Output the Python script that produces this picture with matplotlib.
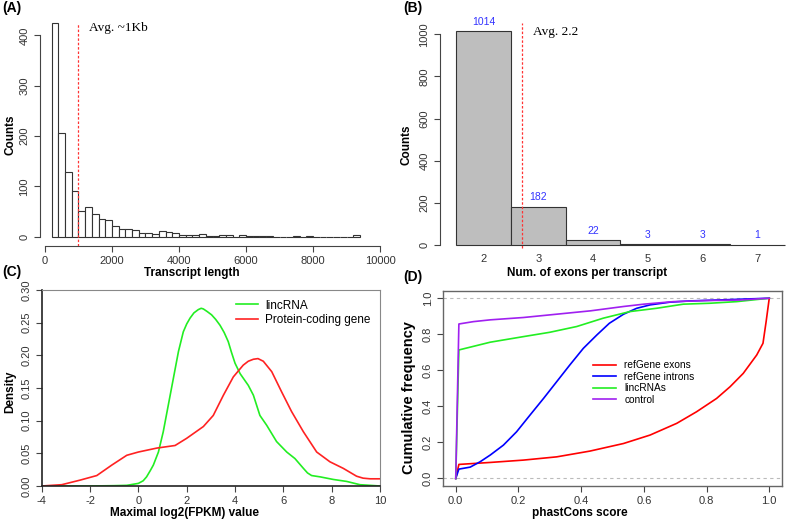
import numpy as np
import matplotlib
matplotlib.use("Agg")
import matplotlib.pyplot as plt

plt.rcParams['font.family'] = ['Liberation Sans', 'DejaVu Sans']
plt.rcParams['axes.unicode_minus'] = False

# ---------------- data ----------------
# (A) transcript length histogram, bin width 200, bins start at 200
hist_bin_starts = list(range(200, 9400, 200))
hist_counts = [425, 206, 128, 91, 52, 60, 46, 36, 34, 21, 15, 15, 14, 8, 8, 5, 11, 9, 8,
               4, 4, 4, 6, 2, 2, 4, 3, 0, 3, 1, 1, 1, 1, 0, 0, 0, 1, 0, 1, 0, 0, 0, 0,
               0, 0, 3]
avg_length = 1000

# (B) exons per transcript
exon_nums = [2, 3, 4, 5, 6, 7]
exon_counts = [1014, 182, 22, 3, 3, 1]
avg_exons_line = 2.7

# (C) density curves
linc_x = [-4, -2, -1, -0.48, 0.0, 0.2, 0.34, 0.5, 0.62, 0.83, 1.03, 1.24, 1.45, 1.66, 1.86, 2.0,
          2.14, 2.3, 2.48, 2.6, 2.69, 2.85, 3.03, 3.2, 3.38, 3.55, 3.72, 3.85, 4.0, 4.21, 4.38,
          4.55, 4.76, 5.03, 5.31, 5.72, 6.14, 6.48, 6.83, 7.0, 7.17, 7.52, 8.07, 8.62, 9.17, 10]
linc_y = [0, 0, 0.0005, 0.001, 0.004, 0.008, 0.014, 0.024, 0.032, 0.052, 0.083, 0.124, 0.165,
          0.206, 0.236, 0.248, 0.257, 0.265, 0.270, 0.272, 0.271, 0.267, 0.262, 0.255, 0.246,
          0.235, 0.221, 0.205, 0.188, 0.172, 0.163, 0.154, 0.139, 0.108, 0.093, 0.068, 0.052,
          0.042, 0.027, 0.020, 0.016, 0.014, 0.010, 0.007, 0.002, 0.0]
pc_x = [-4, -3.17, -2.41, -1.72, -1.10, -0.48, 0.0, 0.76, 1.52, 2.0, 2.69, 3.10, 3.52, 3.93,
        4.34, 4.55, 4.76, 4.95, 5.17, 5.52, 5.93, 6.34, 6.83, 7.38, 7.93, 8.48, 9.03, 9.3, 9.59, 10]
pc_y = [0, 0.002, 0.009, 0.016, 0.032, 0.047, 0.052, 0.058, 0.062, 0.073, 0.091, 0.108, 0.139,
        0.167, 0.185, 0.191, 0.194, 0.195, 0.191, 0.175, 0.144, 0.114, 0.083, 0.052, 0.037,
        0.027, 0.015, 0.012, 0.011, 0.011]

# (D) cumulative frequency curves
exon_x = [0, 0.01, 0.11, 0.216, 0.322, 0.428, 0.535, 0.62, 0.705, 0.768, 0.832, 0.875, 0.917,
          0.96, 0.98, 0.99, 1.0]
exon_y = [0, 0.078, 0.089, 0.102, 0.12, 0.152, 0.194, 0.241, 0.306, 0.37, 0.444, 0.509, 0.583,
          0.685, 0.75, 0.87, 1.0]
intron_x = [0, 0.01, 0.046, 0.078, 0.11, 0.152, 0.194, 0.237, 0.28, 0.322, 0.364, 0.407, 0.45,
            0.49, 0.535, 0.577, 0.62, 0.683, 0.747, 0.853, 1.0]
intron_y = [0, 0.052, 0.063, 0.093, 0.13, 0.185, 0.259, 0.352, 0.444, 0.537, 0.63, 0.722, 0.796,
            0.861, 0.911, 0.944, 0.963, 0.978, 0.985, 0.991, 1.0]
lincd_x = [0, 0.01, 0.11, 0.216, 0.30, 0.386, 0.47, 0.556, 0.64, 0.726, 0.81, 0.896, 1.0]
lincd_y = [0, 0.713, 0.756, 0.787, 0.811, 0.843, 0.889, 0.926, 0.944, 0.967, 0.972, 0.981, 1.0]
ctrl_x = [0, 0.01, 0.056, 0.11, 0.216, 0.32, 0.43, 0.535, 0.6, 0.694, 0.8, 0.906, 1.0]
ctrl_y = [0, 0.857, 0.87, 0.88, 0.893, 0.911, 0.93, 0.954, 0.967, 0.981, 0.987, 0.99, 1.0]

# ---------------- figure ----------------
W, H = 787, 521
fig = plt.figure(figsize=(W / 100, H / 100), dpi=100)


def add_ax(left, top, right, bottom):
    return fig.add_axes([left / W, 1 - bottom / H, (right - left) / W, (bottom - top) / H])


tick_col = '#333333'
tick_fs = 8
lab_fs = 8.5


def style_ticks(ax):
    ax.tick_params(axis='both', colors='#444444', labelcolor=tick_col, labelsize=tick_fs,
                   length=4, width=0.8, direction='out')
    for lbl in ax.get_yticklabels():
        lbl.set_rotation(90)
        lbl.set_va('center')


# ---- (A) ----
axA = add_ax(40, 20, 390, 246)
axA.bar(hist_bin_starts, hist_counts, width=200, align='edge', color='white',
        edgecolor='#333333', linewidth=0.8)
axA.set_xlim(-149, 10298)
axA.set_ylim(-18.4, 430.6)
axA.spines['top'].set_visible(False)
axA.spines['right'].set_visible(False)
axA.spines['left'].set_bounds(0, 400)
axA.spines['bottom'].set_bounds(0, 10000)
for s in ('left', 'bottom'):
    axA.spines[s].set_color('#444444')
    axA.spines[s].set_linewidth(0.8)
axA.set_xticks([0, 2000, 4000, 6000, 8000, 10000])
axA.set_yticks([0, 100, 200, 300, 400])
style_ticks(axA)
axA.axvline(avg_length, ymin=0.0, ymax=0.985, color='#ff3333', linestyle=(0, (2, 1.5)),
            linewidth=0.9, clip_on=False)
axA.text(1300, 415, 'Avg. ~1Kb', family='Liberation Serif', fontsize=9.5, va='center')
fig.text(192 / W, 1 - 273 / H, 'Transcript length', ha='center', va='center',
         fontsize=lab_fs, fontweight='bold')
fig.text(10 / W, 1 - 135 / H, 'Counts', ha='center', va='center', rotation=90,
         fontsize=lab_fs, fontweight='bold')
fig.text(2 / W, 1 - 8 / H, '(A)', ha='left', va='center', fontsize=10, fontweight='bold')

# ---- (B) ----
axB = add_ax(440, 20, 787, 248)
axB.bar(exon_nums, exon_counts, width=1.0, color='#bebebe', edgecolor='#333333', linewidth=0.8)
axB.set_xlim(1.201, 7.545)
axB.set_ylim(-14.2, 1067.8)
for s in ('top', 'right', 'bottom'):
    axB.spines[s].set_visible(False)
axB.spines['left'].set_bounds(0, 1000)
axB.spines['left'].set_color('#444444')
axB.spines['left'].set_linewidth(0.8)
axB.set_yticks([0, 200, 400, 600, 800, 1000])
axB.set_xticks(exon_nums)
style_ticks(axB)
axB.tick_params(axis='x', length=0, pad=4)
for xv, cv in zip(exon_nums, exon_counts):
    axB.text(xv, cv + 45, str(cv), color='#3333ff', ha='center', va='center', fontsize=7.5)
axB.axvline(avg_exons_line, ymin=0.0, ymax=0.985, color='#ff3333', linestyle=(0, (2, 1.5)),
            linewidth=0.9, clip_on=False)
axB.text(2.9, 1010, 'Avg. 2.2', family='Liberation Serif', fontsize=9.5, va='center')
fig.text(587 / W, 1 - 273 / H, 'Num. of exons per transcript', ha='center', va='center',
         fontsize=lab_fs, fontweight='bold')
fig.text(407 / W, 1 - 145 / H, 'Counts', ha='center', va='center', rotation=90,
         fontsize=lab_fs, fontweight='bold')
fig.text(403 / W, 1 - 8 / H, '(B)', ha='left', va='center', fontsize=10, fontweight='bold')

# ---- (C) ----
axC = add_ax(41.7, 290, 380, 486)
axC.plot(linc_x, linc_y, color='#22ee22', linewidth=1.2, label='lincRNA')
axC.plot(pc_x, pc_y, color='#ff2222', linewidth=1.2, label='Protein-coding gene')
axC.set_xlim(-4, 10)
axC.set_ylim(0, 0.30)
axC.set_xticks([-4, -2, 0, 2, 4, 6, 8, 10])
axC.set_yticks([0, 0.05, 0.10, 0.15, 0.20, 0.25, 0.30])
axC.set_yticklabels(['0.00', '0.05', '0.10', '0.15', '0.20', '0.25', '0.30'])
style_ticks(axC)
for s in ('top', 'right'):
    axC.spines[s].set_color('#888888')
for s in ('left', 'bottom'):
    axC.spines[s].set_color('#222222')
    axC.spines[s].set_linewidth(1.2)
axC.legend(loc='upper left', frameon=False, fontsize=8.5, handlelength=1.9,
           handletextpad=0.6, bbox_to_anchor=(0.56, 0.975), labelspacing=0.2,
           borderaxespad=0.0)
fig.text(185 / W, 1 - 513 / H, 'Maximal log2(FPKM) value', ha='center', va='center',
         fontsize=lab_fs, fontweight='bold')
fig.text(10 / W, 1 - 392 / H, 'Density', ha='center', va='center', rotation=90,
         fontsize=lab_fs, fontweight='bold')
fig.text(2 / W, 1 - 272 / H, '(C)', ha='left', va='center', fontsize=10, fontweight='bold')

# ---- (D) ----
axD = add_ax(443.2, 291, 781.8, 485.7)
axD.axhline(0, color='#bbbbbb', linestyle=(0, (3, 3)), linewidth=0.8)
axD.axhline(1, color='#bbbbbb', linestyle=(0, (3, 3)), linewidth=0.8)
axD.plot(exon_x, exon_y, color='#ff0000', linewidth=1.2, label='refGene exons')
axD.plot(intron_x, intron_y, color='#0000ff', linewidth=1.2, label='refGene introns')
axD.plot(lincd_x, lincd_y, color='#22ee22', linewidth=1.2, label='lincRNAs')
axD.plot(ctrl_x, ctrl_y, color='#a020f0', linewidth=1.2, label='control')
axD.set_xlim(-0.04, 1.04)
axD.set_ylim(-0.04, 1.04)
axD.set_xticks([0, 0.2, 0.4, 0.6, 0.8, 1.0])
axD.set_yticks([0, 0.2, 0.4, 0.6, 0.8, 1.0])
axD.set_xticklabels(['0.0', '0.2', '0.4', '0.6', '0.8', '1.0'])
axD.set_yticklabels(['0.0', '0.2', '0.4', '0.6', '0.8', '1.0'])
style_ticks(axD)
for s in axD.spines.values():
    s.set_color('#666666')
    s.set_linewidth(1.0)
axD.legend(loc='upper left', frameon=False, fontsize=7.3, handlelength=2.3,
           handletextpad=0.8, bbox_to_anchor=(0.43, 0.665), labelspacing=0.15,
           borderaxespad=0.0)
fig.text(580 / W, 1 - 513 / H, 'phastCons score', ha='center', va='center',
         fontsize=lab_fs, fontweight='bold')
fig.text(409 / W, 1 - 398 / H, 'Cumulative frequency', ha='center', va='center', rotation=90,
         fontsize=10.5, fontweight='bold')
fig.text(403 / W, 1 - 277 / H, '(D)', ha='left', va='center', fontsize=10, fontweight='bold')

fig.savefig('out.png', dpi=100)
